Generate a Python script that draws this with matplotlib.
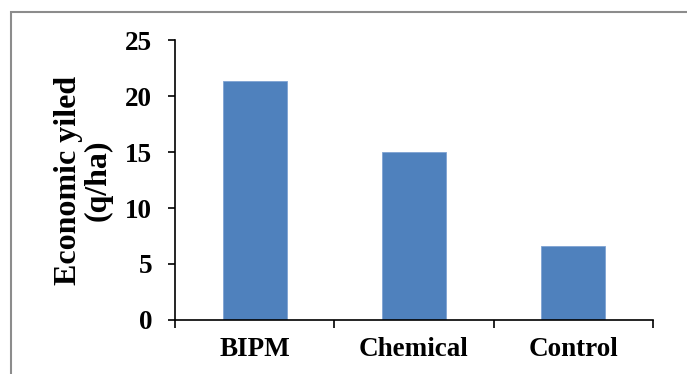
import matplotlib
matplotlib.use("Agg")
import matplotlib.pyplot as plt
from matplotlib.patches import Rectangle

categories = ["BIPM", "Chemical", "Control"]
yield_qha = [21.3, 15.0, 6.6]
y_ticks = [0, 5, 10, 15, 20, 25]

plt.rcParams["font.family"] = ["Liberation Serif", "DejaVu Serif"]
plt.rcParams["font.weight"] = "bold"

fig = plt.figure(figsize=(6.87, 3.74), dpi=100)
ax = fig.add_axes([0.2547, 0.1444, 0.6958, 0.7486])

x = list(range(len(categories)))
ax.bar(x, yield_qha, width=0.4, color="#4F81BD", edgecolor="#7FA3D3", linewidth=0.6, zorder=2)

ax.set_xlim(-0.5, len(categories) - 0.5)
ax.set_ylim(0, 25)
ax.set_yticks(y_ticks)
ax.set_xticks(x)
ax.set_xticklabels(categories)
ax.set_xticks([i - 0.5 for i in range(len(categories) + 1)], minor=True)
ax.tick_params(axis="x", which="major", length=0, pad=12, labelsize=19.5)
ax.tick_params(axis="x", which="minor", length=6, width=1.2, direction="out")
ax.tick_params(axis="y", length=5, width=1.2, pad=11.5, labelsize=19.5)
for lbl in ax.get_xticklabels() + ax.get_yticklabels():
    lbl.set_fontweight("bold")

for s in ["top", "right"]:
    ax.spines[s].set_visible(False)
for s in ["left", "bottom"]:
    ax.spines[s].set_linewidth(1.2)

ax.set_ylabel("Economic yiled\n(q/ha)", fontsize=23, fontweight="bold", linespacing=1.0, labelpad=9)

fig.patches.append(Rectangle((11 / 687, -0.1), 1.2, 0.1 + 1 - 12 / 374, transform=fig.transFigure,
                             fill=False, edgecolor="#8c8c8c", linewidth=1.5))

fig.savefig("out.png", dpi=100)
